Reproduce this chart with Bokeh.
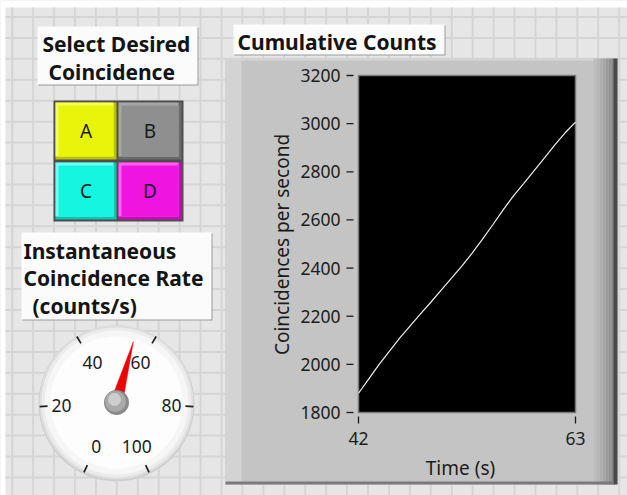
import math
from bokeh.plotting import figure
from bokeh.models import Range1d
from bokeh.core.properties import value
from bokeh.embed import file_html
from bokeh.resources import INLINE

# ---------------- data ----------------
time_s = [42, 43, 44, 45, 46, 47, 48, 49, 50, 51, 52, 53, 54, 55, 56, 57, 58, 59, 60, 61, 62, 63]
counts = [1880, 1940, 2000, 2055, 2110, 2160, 2210, 2258, 2308, 2358, 2408, 2462,
          2520, 2580, 2642, 2700, 2752, 2805, 2858, 2912, 2962, 3006]
x_ticks = [42, 63]
y_ticks = [1800, 2000, 2200, 2400, 2600, 2800, 3000, 3200]
x_title = "Time (s)"
y_title = "Coincidences per second"
graph_title = "Cumulative Counts"
gauge_ticks = [0, 20, 40, 60, 80, 100]
gauge_value = 55
gauge_title = ["Instantaneous", "Coincidence Rate", "(counts/s)"]
select_title = ["Select Desired", "Coincidence"]
button_labels = ["A", "B", "C", "D"]
button_colors = ["#e8f40a", "#8f8f8f", "#16f5e0", "#f014e1"]
button_dark = ["#b9c200", "#6a6a6a", "#10c4b2", "#c010b4"]
button_light = ["#f4ff5a", "#a6a6a6", "#70fff0", "#ff60f0"]

FONT = "Noto Sans"
W, H = 627, 495
BG, GL = "#e6e6e6", "#d5d5d5"

# whole canvas is one frame measured in pixels (y down)
p = figure(width=W, height=H, x_range=Range1d(0, W), y_range=Range1d(H, 0),
           min_border=0, x_axis_location=None, y_axis_location=None,
           output_backend="svg", toolbar_location=None,
           background_fill_color=BG, border_fill_color=BG, outline_line_color=None)
p.grid.visible = False

# graph scales: data ranges placed so that the plot area sits at x 358..575, y 75..412
FL, FR, FT, FB = 358, 575, 75, 412
kx = (x_ticks[-1] - x_ticks[0]) / (FR - FL)
ky = (y_ticks[-1] - y_ticks[0]) / (FB - FT)
p.extra_x_ranges = {"t": Range1d(x_ticks[0] - FL * kx, x_ticks[0] + (W - FL) * kx)}
p.extra_y_ranges = {"c": Range1d(y_ticks[0] - (H - FB) * ky, y_ticks[-1] + FT * ky)}


def rect(x0, y0, x1, y1, color):
    p.quad(left=[x0], right=[x1], top=[y0], bottom=[y1], fill_color=color, line_color=None)


def text(x, y, s, size, bold=False, align="left", color="#141414", angle=0.0, **kw):
    xs = x if isinstance(x, list) else [x]
    ys = y if isinstance(y, list) else [y]
    ss = s if isinstance(s, list) else [s]
    p.text(x=xs, y=ys, text=ss, text_font=value(FONT), text_font_size=value(f"{size}px"),
           text_font_style="bold" if bold else "normal", text_align=align,
           text_baseline="middle", text_color=color, angle=angle, **kw)


# ---------------- white screenshot margin + grid ----------------
rect(0, 0, W, 7, "white")
rect(0, 0, 5, H, "white")
PX0, PY0, PX1, PY1 = 225, 58, 617, 484
step = 20.93
gx0, gy0, gx1, gy1 = [], [], [], []
k = 0
while 11.7 + step * k < W:
    gx = 11.7 + step * k
    gx0.append(gx); gx1.append(gx); gy0.append(7); gy1.append(H)
    k += 1
k = 0
while 16.5 + step * k < H:
    gy = 16.5 + step * k
    gx0.append(5); gx1.append(W); gy0.append(gy); gy1.append(gy)
    k += 1
p.segment(x0=gx0, y0=gy0, x1=gx1, y1=gy1, line_color=GL, line_width=2)

# ---------------- graph panel ----------------
rect(PX0, PY0, PX1, PY1, "#c4c4c4")
rect(PX0, PY0, 241, PY1, "#d3d3d3")
rect(PX0, PY0, PX1, PY0 + 2, "#d6d6d6")
shades = ["#bebebe", "#b7b7b7", "#afafaf", "#a6a6a6", "#9c9c9c", "#919191", "#848484"]
for i, c in enumerate(shades):
    rect(593 + i * 3, PY0, 596 + i * 3, PY1, c)
rect(613, PY0, PX1, PY1, "#4a4a4a")
rect(PX0, PY1 - 3, 613, PY1, "#7a7a7a")

# plot area
p.quad(left=[x_ticks[0]], right=[x_ticks[-1]], bottom=[y_ticks[0]], top=[y_ticks[-1]],
       x_range_name="t", y_range_name="c", fill_color="black",
       line_color="#7a7a7a", line_width=1.5)
p.line(time_s, counts, x_range_name="t", y_range_name="c", line_color="#f0f0f0", line_width=1.2)

# axes
p.segment(x0=[FL - 12] * len(y_ticks), x1=[FL - 5] * len(y_ticks), y0=y_ticks, y1=y_ticks,
          y_range_name="c", line_color="#1c1c1c", line_width=1.3)
text([FL - 18] * len(y_ticks), y_ticks, [str(v) for v in y_ticks], 17.5, align="right",
     color="#1c1c1c", y_range_name="c")
p.segment(x0=x_ticks, x1=x_ticks, y0=[FB + 4] * len(x_ticks), y1=[FB + 11] * len(x_ticks),
          x_range_name="t", line_color="#1c1c1c", line_width=1.3)
text(x_ticks, [FB + 26] * len(x_ticks), [str(v) for v in x_ticks], 17.5, align="center",
     color="#1c1c1c", x_range_name="t")
text(460, 467, x_title, 19, align="center", color="#1c1c1c")
text(281, 244, y_title, 19, align="center", color="#1c1c1c", angle=math.pi / 2)


# ---------------- label boxes ----------------
def label_box(x0, y0, x1, y1):
    rect(x0 + 1, y0 + 1, x1 + 1, y1 + 1, "#9a9a9a")
    rect(x0, y0, x1, y1, "#fbfbfb")


label_box(37, 26, 197, 84)
for s, lx, ly in zip(select_title, [42, 48], [43, 71]):
    text(lx, ly, s, 21, bold=True)

label_box(233, 24, 444, 54)
text(237, 41, graph_title, 21, bold=True)

label_box(21, 232, 211, 319)
for s, lx, ly in zip(gauge_title, [23, 23, 32], [250, 277.5, 305]):
    text(lx, ly, s, 21, bold=True)

# ---------------- buttons ----------------
rect(53, 100, 183, 221, "#4e4e4e")
cells = [(55, 102, 116, 159), (118, 102, 181, 159), (55, 162, 116, 219), (118, 162, 181, 219)]
for (x0, y0, x1, y1), lab, c, cd, cl in zip(cells, button_labels, button_colors,
                                            button_dark, button_light):
    rect(x0, y0, x1, y1, cd)
    rect(x0, y0, x1 - 3, y1 - 3, cl)
    rect(x0 + 3, y0 + 3, x1 - 3, y1 - 3, c)
    text((x0 + x1) / 2, (y0 + y1) / 2, lab, 19, align="center", color="#1a1a1a")

# ---------------- gauge ----------------
GCX, GCY = 116, 402
for dy, r, c in [(1, 78, "#cfcfcf"), (0, 77, "#dedede"), (0, 75, "#ececec"),
                 (0, 72, "#f6f6f6"), (0, 66, "#fdfdfd")]:
    p.circle(x=[GCX], y=[GCY + dy], radius=r, fill_color=c, line_color=None)


def gauge_angle(v):
    return math.radians(245 - 3.1 * v)


angs = [gauge_angle(v) for v in gauge_ticks]
p.segment(x0=[GCX + 69 * math.cos(a) for a in angs], y0=[GCY - 69 * math.sin(a) for a in angs],
          x1=[GCX + 77 * math.cos(a) for a in angs], y1=[GCY - 77 * math.sin(a) for a in angs],
          line_color="#202020", line_width=1.7)
rl = [44.5 + 8.5 * math.cos(a) ** 2 + (2 if math.sin(a) < 0 else 0) for a in angs]
text([GCX + r * math.cos(a) for r, a in zip(rl, angs)],
     [GCY - r * math.sin(a) for r, a in zip(rl, angs)],
     [str(v) for v in gauge_ticks], 17.5, align="center", color="#1c1c1c")

a = gauge_angle(gauge_value)
perp = a + math.pi / 2
p.patch(x=[GCX + 63 * math.cos(a), GCX + 6 * math.cos(perp), GCX - 6 * math.cos(perp)],
        y=[GCY - 63 * math.sin(a), GCY - 6 * math.sin(perp), GCY + 6 * math.sin(perp)],
        fill_color="#f00000", line_color="#f00000", line_width=0.5)
for dx, dy, r, c in [(0, 0, 12.5, "#8a8a8a"), (-1, -1, 10.5, "#a9a9a9"), (-2, -3, 6.5, "#cdcdcd")]:
    p.circle(x=[GCX + dx], y=[GCY + dy], radius=r, fill_color=c, line_color=None)

open("out.html", "w").write(file_html(p, INLINE))
